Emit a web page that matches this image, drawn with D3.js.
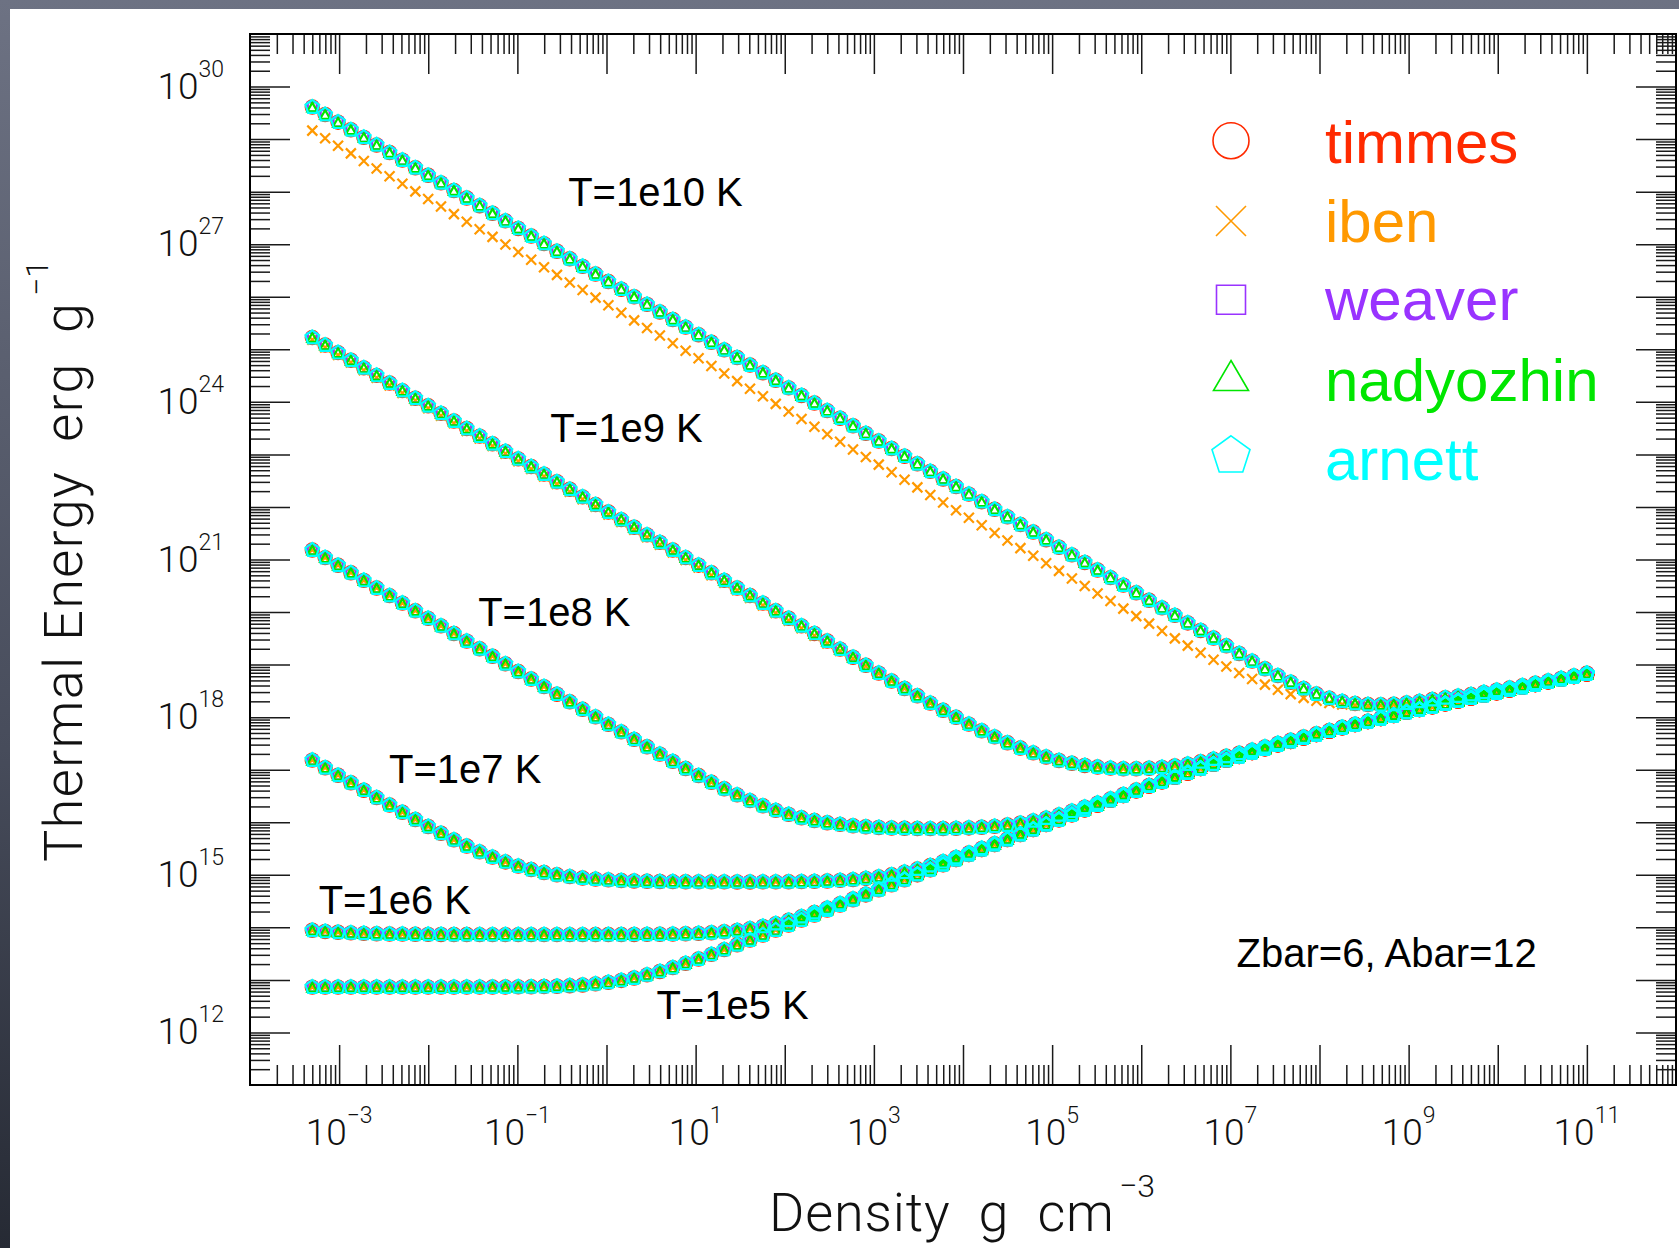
<!DOCTYPE html>
<html>
<head>
<meta charset="utf-8">
<script src="https://cdn.jsdelivr.net/npm/d3@7"></script>
<style>
  html, body { margin: 0; padding: 0; background: #fff; }
  svg { display: block; }
  text { white-space: pre; }
</style>
</head>
<body>
<svg id="chart" width="1679" height="1248"></svg>
<script>
// ----------------------------
// Data (log10 values)
// ----------------------------
const logDensity = [
  -3.301,-3.157,-3.012,-2.868,-2.723,-2.579,-2.434,-2.290,-2.145,-2.001,
  -1.857,-1.712,-1.568,-1.423,-1.279,-1.134,-0.990,-0.845,-0.701,-0.556,
  -0.412,-0.268,-0.123,0.021,0.166,0.310,0.455,0.599,0.744,0.888,
  1.033,1.177,1.321,1.466,1.610,1.755,1.899,2.044,2.188,2.333,
  2.477,2.621,2.766,2.910,3.055,3.199,3.344,3.488,3.633,3.777,
  3.922,4.066,4.210,4.355,4.499,4.644,4.788,4.933,5.077,5.222,
  5.366,5.510,5.655,5.799,5.944,6.088,6.233,6.377,6.522,6.666,
  6.811,6.955,7.099,7.244,7.388,7.533,7.677,7.822,7.966,8.111,
  8.255,8.399,8.544,8.688,8.833,8.977,9.122,9.266,9.411,9.555,
  9.700,9.844,9.988,10.133,10.277,10.422,10.566,10.711,10.855,11.000
];

const eT1e5 = [
  12.862,12.862,12.862,12.862,12.862,12.862,12.862,12.862,12.862,12.862,
  12.862,12.862,12.863,12.863,12.864,12.865,12.867,12.870,12.874,12.880,
  12.890,12.904,12.925,12.953,12.990,13.037,13.095,13.161,13.234,13.314,
  13.398,13.486,13.576,13.668,13.760,13.854,13.948,14.044,14.139,14.234,
  14.330,14.426,14.522,14.617,14.713,14.809,14.906,15.002,15.096,15.192,
  15.288,15.384,15.479,15.575,15.670,15.766,15.860,15.954,16.048,16.142,
  16.236,16.326,16.416,16.507,16.597,16.687,16.770,16.854,16.937,17.021,
  17.104,17.178,17.252,17.325,17.399,17.473,17.538,17.603,17.668,17.733,
  17.798,17.857,17.915,17.974,18.032,18.091,18.145,18.199,18.254,18.308,
  18.362,18.414,18.465,18.517,18.568,18.620,18.671,18.721,18.772,18.822
];

const eT1e6 = [
  13.944,13.922,13.906,13.894,13.885,13.879,13.874,13.871,13.868,13.866,
  13.865,13.864,13.863,13.862,13.862,13.862,13.862,13.862,13.862,13.862,
  13.862,13.862,13.863,13.863,13.864,13.865,13.866,13.869,13.872,13.878,
  13.886,13.898,13.916,13.941,13.975,14.018,14.071,14.135,14.205,14.283,
  14.366,14.452,14.541,14.633,14.725,14.818,14.913,15.007,15.100,15.195,
  15.290,15.386,15.481,15.576,15.671,15.767,15.861,15.955,16.048,16.142,
  16.236,16.326,16.416,16.507,16.597,16.687,16.770,16.854,16.937,17.021,
  17.104,17.178,17.252,17.325,17.399,17.473,17.538,17.603,17.668,17.733,
  17.798,17.857,17.915,17.974,18.032,18.091,18.145,18.199,18.254,18.308,
  18.362,18.414,18.465,18.517,18.568,18.620,18.671,18.721,18.772,18.822
];

const eT1e7 = [
  17.182,17.038,16.895,16.752,16.610,16.469,16.328,16.190,16.053,15.920,
  15.790,15.665,15.547,15.437,15.336,15.245,15.166,15.100,15.044,15.000,
  14.965,14.938,14.918,14.903,14.892,14.883,14.877,14.873,14.870,14.868,
  14.866,14.865,14.865,14.864,14.864,14.865,14.866,14.868,14.871,14.875,
  14.882,14.893,14.908,14.931,14.961,15.000,15.050,15.109,15.176,15.250,
  15.331,15.416,15.503,15.593,15.683,15.776,15.868,15.960,16.053,16.146,
  16.239,16.328,16.418,16.509,16.598,16.688,16.771,16.855,16.938,17.021,
  17.104,17.178,17.252,17.325,17.399,17.473,17.538,17.603,17.668,17.733,
  17.798,17.857,17.915,17.974,18.032,18.091,18.145,18.199,18.254,18.308,
  18.362,18.414,18.465,18.517,18.568,18.620,18.671,18.721,18.772,18.822
];

const eT1e8 = [
  21.180,21.036,20.891,20.747,20.602,20.458,20.313,20.169,20.024,19.880,
  19.736,19.591,19.447,19.302,19.158,19.014,18.869,18.725,18.581,18.437,
  18.293,18.149,18.005,17.862,17.719,17.577,17.436,17.296,17.158,17.022,
  16.889,16.761,16.637,16.521,16.412,16.314,16.226,16.150,16.086,16.033,
  15.991,15.959,15.934,15.915,15.901,15.891,15.885,15.881,15.879,15.880,
  15.884,15.892,15.904,15.922,15.947,15.982,16.026,16.079,16.141,16.211,
  16.287,16.364,16.445,16.529,16.614,16.700,16.780,16.862,16.943,17.026,
  17.108,17.181,17.255,17.327,17.401,17.475,17.540,17.605,17.670,17.735,
  17.800,17.858,17.916,17.975,18.033,18.092,18.146,18.200,18.255,18.309,
  18.363,18.415,18.466,18.518,18.569,18.621,18.672,18.722,18.773,18.823
];

const eT1e9 = [
  25.225,25.081,24.936,24.792,24.647,24.503,24.358,24.214,24.069,23.925,
  23.781,23.636,23.492,23.347,23.203,23.058,22.914,22.769,22.625,22.480,
  22.336,22.192,22.047,21.903,21.758,21.614,21.469,21.325,21.180,21.036,
  20.892,20.747,20.603,20.458,20.314,20.170,20.025,19.881,19.737,19.593,
  19.448,19.294,19.141,18.988,18.837,18.688,18.546,18.406,18.267,18.131,
  17.997,17.867,17.742,17.624,17.513,17.412,17.321,17.243,17.176,17.123,
  17.081,17.050,17.030,17.019,17.018,17.027,17.044,17.070,17.106,17.150,
  17.202,17.255,17.312,17.372,17.435,17.501,17.561,17.622,17.683,17.746,
  17.808,17.866,17.922,17.980,18.037,18.095,18.149,18.202,18.257,18.311,
  18.364,18.416,18.467,18.519,18.569,18.621,18.672,18.722,18.773,18.823
];

const eT1e10 = [
  29.611,29.467,29.322,29.178,29.033,28.889,28.744,28.600,28.455,28.311,
  28.167,28.022,27.878,27.733,27.589,27.444,27.300,27.155,27.011,26.866,
  26.722,26.578,26.433,26.289,26.144,26.000,25.855,25.711,25.566,25.422,
  25.278,25.133,24.989,24.844,24.700,24.555,24.411,24.266,24.122,23.977,
  23.833,23.689,23.544,23.400,23.255,23.111,22.966,22.822,22.677,22.533,
  22.389,22.244,22.100,21.955,21.811,21.666,21.522,21.377,21.233,21.088,
  20.944,20.800,20.656,20.512,20.368,20.224,20.080,19.937,19.793,19.650,
  19.505,19.358,19.212,19.066,18.920,18.790,18.665,18.545,18.440,18.360,
  18.300,18.260,18.240,18.235,18.245,18.270,18.300,18.335,18.370,18.400,
  18.430,18.472,18.513,18.555,18.600,18.645,18.690,18.738,18.786,18.835
];

// iben differs from the others only at the two hottest temperatures
const ibenT1e9 = [
  25.180,25.036,24.891,24.747,24.602,24.458,24.313,24.169,24.024,23.880,
  23.736,23.591,23.447,23.302,23.158,23.013,22.869,22.724,22.580,22.435,
  22.291,22.147,22.002,21.858,21.713,21.569,21.424,21.280,21.136,20.991,
  20.847,20.702,20.558,20.414,20.270,20.125,19.981,19.837,19.693,19.549,
  19.404,19.260,19.116,18.973,18.830,18.688,18.546,18.406,18.267,18.131,
  17.997,17.867,17.742,17.624,17.513,17.412,17.321,17.243,17.176,17.123,
  17.081,17.050,17.030,17.019,17.018,17.027,17.044,17.070,17.106,17.150,
  17.202,17.255,17.312,17.372,17.435,17.501,17.561,17.622,17.683,17.746,
  17.808,17.866,17.922,17.980,18.037,18.095,18.149,18.202,18.257,18.311,
  18.364,18.416,18.467,18.519,18.569,18.621,18.672,18.722,18.773,18.823
];

const ibenT1e10 = [
  29.161,29.017,28.872,28.728,28.583,28.439,28.294,28.150,28.005,27.861,
  27.717,27.572,27.428,27.283,27.139,26.994,26.850,26.705,26.561,26.416,
  26.272,26.128,25.983,25.839,25.694,25.550,25.405,25.261,25.116,24.972,
  24.828,24.683,24.539,24.394,24.250,24.105,23.961,23.816,23.672,23.527,
  23.383,23.239,23.094,22.950,22.805,22.661,22.516,22.372,22.227,22.083,
  21.939,21.794,21.650,21.505,21.361,21.216,21.072,20.927,20.784,20.640,
  20.496,20.352,20.209,20.065,19.922,19.780,19.639,19.499,19.361,19.225,
  19.093,18.964,18.841,18.726,18.619,18.522,18.438,18.367,18.311,18.269,
  18.240,18.224,18.218,18.223,18.236,18.257,18.281,18.311,18.346,18.383,
  18.424,18.465,18.507,18.552,18.597,18.644,18.691,18.738,18.786,18.834
];

const seriesNames = ["timmes", "iben", "weaver", "nadyozhin", "arnett"];
const seriesShapes = ["circle", "x", "square", "triangle", "pentagon"];
const seriesColors = ["#ff2a00", "#ff9900", "#9933ff", "#00e600", "#00ffff"];

const curveLabels = ["T=1e10 K", "T=1e9 K", "T=1e8 K", "T=1e7 K", "T=1e6 K", "T=1e5 K"];
// label anchors in data units [log10 density, log10 energy]
const curveLabelSpots = [[-0.43, 27.73], [-0.63, 23.24], [-1.44, 19.74], [-2.44, 16.74], [-3.23, 14.25], [0.56, 12.26]];

const xTickExponents = [-3, -1, 1, 3, 5, 7, 9, 11];
const yTickExponents = [12, 15, 18, 21, 24, 27, 30];

// curves for every series, hottest first
const commonCurves = [eT1e10, eT1e9, eT1e8, eT1e7, eT1e6, eT1e5];
const ibenCurves = [ibenT1e10, ibenT1e9, eT1e8, eT1e7, eT1e6, eT1e5];

// ----------------------------
// Layout
// ----------------------------
const svg = d3.select("#chart");
const W = 1679, H = 1248;
const plotLeft = 250, plotRight = 1676, plotTop = 34, plotBottom = 1085;

const x = d3.scaleLog().domain([1e-4, 1e12]).range([plotLeft, plotRight]);
const y = d3.scaleLog().domain([1e11, 1e31]).range([plotBottom, plotTop]);

const labelFont = "'Liberation Sans', Arial, Helvetica, sans-serif";
const axisFont = "Roboto, 'Liberation Sans', sans-serif";

const plotSizes = {circle: 6.6, x: 5, square: 4.5, triangle: [5.0, 4.4], pentagon: 7.2};
const legendSizes = {circle: 18, x: 15, square: 14.5, triangle: [17.5, 15], pentagon: 20};

drawBackground();
drawSeries();
drawAxes();
drawLabels();
drawLegend();

// ----------------------------
// Background frame
// ----------------------------
function drawBackground() {
    const defs = svg.append("defs");
    const grad = defs.append("linearGradient")
        .attr("id", "bg").attr("x1", 0).attr("y1", 0).attr("x2", 0).attr("y2", 1);
    grad.append("stop").attr("offset", "0%").attr("stop-color", "#6d7283");
    grad.append("stop").attr("offset", "60%").attr("stop-color", "#474c5b");
    grad.append("stop").attr("offset", "100%").attr("stop-color", "#262a34");

    svg.append("rect").attr("width", W).attr("height", H).attr("fill", "url(#bg)");
    svg.append("rect").attr("x", 10).attr("y", 9).attr("width", W - 10).attr("height", H - 9).attr("fill", "#fff");
}

// ----------------------------
// Marker shapes
// ----------------------------
function shapePath(kind, s) {
    const p = d3.path();
    if (kind === "circle") {
        p.moveTo(s.circle, 0);
        p.arc(0, 0, s.circle, 0, 2 * Math.PI);
    } else if (kind === "x") {
        p.moveTo(-s.x, -s.x); p.lineTo(s.x, s.x);
        p.moveTo(-s.x, s.x); p.lineTo(s.x, -s.x);
    } else if (kind === "square") {
        p.rect(-s.square, -s.square, 2 * s.square, 2 * s.square);
    } else if (kind === "triangle") {
        const [hw, hh] = s.triangle;
        p.moveTo(0, -hh); p.lineTo(hw, hh); p.lineTo(-hw, hh); p.closePath();
    } else if (kind === "pentagon") {
        for (let k = 0; k < 5; k++) {
            const a = -Math.PI / 2 + k * 2 * Math.PI / 5;
            const px = s.pentagon * Math.cos(a), py = s.pentagon * Math.sin(a);
            if (k === 0) p.moveTo(px, py); else p.lineTo(px, py);
        }
        p.closePath();
    }
    return p.toString();
}

// ----------------------------
// Data markers
// ----------------------------
function drawSeries() {
    seriesNames.forEach((name, si) => {
        const curves = name === "iben" ? ibenCurves : commonCurves;
        const g = svg.append("g").attr("class", "series " + name);
        const path = shapePath(seriesShapes[si], plotSizes);
        curves.forEach(curve => {
            const pts = curve.map((v, i) => [logDensity[i], v]);
            g.selectAll(null)
                .data(pts)
                .join("path")
                .attr("d", path)
                .attr("transform", d => `translate(${x(Math.pow(10, d[0]))},${y(Math.pow(10, d[1]))})`)
                .attr("fill", "none")
                .attr("stroke", seriesColors[si])
                .attr("stroke-width", 2.2);
        });
    });
}

// ----------------------------
// Axes, ticks and tick labels
// ----------------------------
function drawAxes() {
    const majorX = d3.range(-3, 12).map(e => Math.pow(10, e));
    const minorX = [];
    for (let e = -4; e < 12; e++) for (let m = 2; m < 10; m++) minorX.push(m * Math.pow(10, e));
    const majorY = d3.range(12, 31).map(e => Math.pow(10, e));
    const minorY = [];
    for (let e = 11; e < 31; e++) for (let m = 2; m < 10; m++) minorY.push(m * Math.pow(10, e));

    const axes = [
        [d3.axisBottom(x), `translate(0,${plotBottom})`, majorX, minorX],
        [d3.axisTop(x), `translate(0,${plotTop})`, majorX, minorX],
        [d3.axisLeft(y), `translate(${plotLeft},0)`, majorY, minorY],
        [d3.axisRight(y), `translate(${plotRight},0)`, majorY, minorY]
    ];
    axes.forEach(([axis, tr, major, minor]) => {
        [[major, -40], [minor, -20]].forEach(([vals, size]) => {
            const g = svg.append("g").attr("transform", tr)
                .call(axis.tickValues(vals).tickSize(size).tickSizeOuter(0).tickFormat(""));
            g.select(".domain").remove();
            g.selectAll(".tick line").attr("stroke", "#1a1a1a").attr("stroke-width", 1.5);
        });
    });

    // Plot frame
    svg.append("rect")
        .attr("x", plotLeft).attr("y", plotTop)
        .attr("width", plotRight - plotLeft).attr("height", plotBottom - plotTop)
        .attr("fill", "none").attr("stroke", "#000").attr("stroke-width", 2);

    // x tick labels: 10 with superscript exponent
    xTickExponents.forEach(e => {
        const t = svg.append("text")
            .attr("x", x(Math.pow(10, e))).attr("y", 1145)
            .attr("text-anchor", "middle")
            .attr("font-family", axisFont).attr("font-weight", 300)
            .attr("font-size", 37).attr("fill", "#111");
        t.append("tspan").text("10");
        t.append("tspan").attr("dy", -22).attr("font-size", 23).text(String(e).replace("-", "\u2212"));
    });

    // y tick labels
    yTickExponents.forEach(e => {
        const t = svg.append("text")
            .attr("x", 224).attr("y", y(Math.pow(10, e)) + 12)
            .attr("text-anchor", "end")
            .attr("font-family", axisFont).attr("font-weight", 300)
            .attr("font-size", 37).attr("fill", "#111");
        t.append("tspan").text("10");
        t.append("tspan").attr("dy", -22).attr("font-size", 23).text(String(e));
    });

    // Axis titles
    svg.append("text")
        .attr("x", 769).attr("y", 1231)
        .attr("textLength", 345).attr("lengthAdjust", "spacing")
        .attr("font-family", axisFont).attr("font-weight", 300)
        .attr("font-size", 54).attr("fill", "#111")
        .text("Density  g  cm");
    svg.append("text")
        .attr("x", 1119).attr("y", 1197)
        .attr("font-family", axisFont).attr("font-weight", 300)
        .attr("font-size", 32).attr("fill", "#111")
        .text("\u22123");

    svg.append("text")
        .attr("transform", "translate(82,862) rotate(-90)")
        .attr("textLength", 559).attr("lengthAdjust", "spacing")
        .attr("font-family", axisFont).attr("font-weight", 300)
        .attr("font-size", 54).attr("fill", "#111")
        .text("Thermal Energy  erg  g");
    svg.append("text")
        .attr("transform", "translate(48,296) rotate(-90)")
        .attr("font-family", axisFont).attr("font-weight", 300)
        .attr("font-size", 32).attr("fill", "#111")
        .text("\u22121");
}

// ----------------------------
// Curve labels and composition note
// ----------------------------
function drawLabels() {
    curveLabels.forEach((label, i) => {
        const [lx, ly] = curveLabelSpots[i];
        svg.append("text")
            .attr("x", x(Math.pow(10, lx))).attr("y", y(Math.pow(10, ly)))
            .attr("font-family", labelFont).attr("font-size", 40).attr("fill", "#000")
            .text(label);
    });

    svg.append("text")
        .attr("x", x(Math.pow(10, 7.07))).attr("y", y(Math.pow(10, 13.25)))
        .attr("font-family", labelFont).attr("font-size", 40).attr("fill", "#000")
        .text("Zbar=6, Abar=12");
}

// ----------------------------
// Legend
// ----------------------------
function drawLegend() {
    const symbolX = 1231, textX = 1325;
    const baselines = [162.7, 242, 320.2, 400.5, 479.8];
    const symbolOffsets = [-22, -21, -20.5, -25, -24];

    seriesNames.forEach((name, i) => {
        svg.append("path")
            .attr("d", shapePath(seriesShapes[i], legendSizes))
            .attr("transform", `translate(${symbolX},${baselines[i] + symbolOffsets[i]})`)
            .attr("fill", "none")
            .attr("stroke", seriesColors[i])
            .attr("stroke-width", 1.6);
        svg.append("text")
            .attr("x", textX).attr("y", baselines[i])
            .attr("font-family", labelFont).attr("font-size", 60)
            .attr("fill", seriesColors[i])
            .text(name);
    });
}
</script>
</body>
</html>
